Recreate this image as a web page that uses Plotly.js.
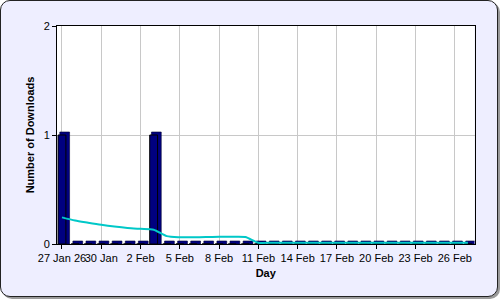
<!DOCTYPE html>
<html>
<head>
<meta charset="utf-8">
<script src="https://cdn.plot.ly/plotly-3.0.1.min.js"></script>
<style>
  html, body { margin: 0; padding: 0; background: #ffffff; }
  #frame { position: absolute; left: 0; top: 0; width: 496px; height: 295px;
           border: 1px solid #222; border-radius: 10px; background: #EEEEFF;
           box-shadow: 2px 2px 0 #9a9a9a; }
  #chart { position: absolute; left: 0; top: 0; width: 500px; height: 300px; }
</style>
</head>
<body>
<div id="frame"></div>
<div id="chart"></div>
<script>
// Days 27 Jan .. 27 Feb
const days = ["27 Jan","28 Jan","29 Jan","30 Jan","31 Jan","1 Feb","2 Feb","3 Feb","4 Feb","5 Feb",
  "6 Feb","7 Feb","8 Feb","9 Feb","10 Feb","11 Feb","12 Feb","13 Feb","14 Feb","15 Feb","16 Feb",
  "17 Feb","18 Feb","19 Feb","20 Feb","21 Feb","22 Feb","23 Feb","24 Feb","25 Feb","26 Feb","27 Feb"];
const downloads = [1,0,0,0,0,0,0,1,0,0,0,0,0,0,0,0,0,0,0,0,0,0,0,0,0,0,0,0,0,0,0,0];
const trend = [0.244,0.215,0.195,0.176,0.160,0.147,0.139,0.131,0.072,0.062,0.062,0.064,0.066,0.067,0.064,
  0.012,0.012,0.012,0.012,0.012,0.012,0.012,0.012,0.012,0.012,0.012,0.012,0.012,0.012,0.012,0.012,0.012];
const tickDays = ["27 Jan","30 Jan","2 Feb","5 Feb","8 Feb","11 Feb","14 Feb","17 Feb","20 Feb","23 Feb","26 Feb"];
const tickLabels = ["27 Jan 26","30 Jan","2 Feb","5 Feb","8 Feb","11 Feb","14 Feb","17 Feb","20 Feb","23 Feb","26 Feb"];
const yTicks = [0,1,2];

const idx = days.map((d,i)=>i);
const tickIdx = tickDays.map(d => days.indexOf(d));

// 3D look parameters (pixels -> data units)
const pxPerDay = 13.11, pxPerUnit = 109;
const dxPx = 3.5, dyPx = 3;
const depth = dyPx / pxPerUnit;
const barW = 0.6;
const backW = barW + (dxPx / 2) / pxPerDay * 1.1;

const plotW = 500 - 57 - 21.5, plotH = 300 - 23 - 56;
const fx = (plotW - dxPx) / plotW, fy = (plotH - dyPx) / plotH;
const xRange = [-0.38, -0.38 + (plotW - dxPx) / pxPerDay];

const wall = {
  type: 'scatter', mode: 'lines', x: idx, y: downloads, xaxis: 'x2', yaxis: 'y2',
  line: { width: 0, color: 'rgba(0,0,0,0)' }, hoverinfo: 'skip', showlegend: false
};
const back = {
  type: 'bar', x: idx, y: downloads.map(v => v + depth), base: 0,
  width: backW, offset: -barW/2 + (dxPx/2)/pxPerDay,
  marker: { color: '#000080', line: { color: '#000030', width: 0.6 } },
  hoverinfo: 'skip', showlegend: false
};
const front = {
  type: 'bar', x: idx, y: downloads, base: 0,
  width: barW, offset: -barW/2,
  marker: { color: '#000080', line: { color: '#000000', width: 1 } },
  showlegend: false
};
const line = {
  type: 'scatter', mode: 'lines', x: idx, y: trend,
  line: { color: '#00C8C8', width: 2, shape: 'spline', smoothing: 0.7 },
  showlegend: false
};

const tickFont = { family: 'Liberation Sans, Arial, sans-serif', size: 11, color: '#000' };
const titleFont = { family: 'Liberation Sans, Arial, sans-serif', size: 11, color: '#000', weight: 'bold' };

const layout = {
  width: 500, height: 300,
  paper_bgcolor: 'rgba(0,0,0,0)', plot_bgcolor: '#ffffff',
  margin: { l: 57, r: 21.5, t: 23, b: 56, pad: 0 },
  barmode: 'overlay',
  xaxis: {
    domain: [0, fx], range: xRange, anchor: 'y',
    tickmode: 'array', tickvals: tickIdx, ticktext: tickLabels, tickangle: 0,
    showgrid: false, zeroline: false, showline: true, linecolor: '#000', linewidth: 1,
    ticks: 'outside', ticklen: 4, tickcolor: '#000', tickfont: tickFont,
    title: { text: 'Day', font: titleFont, standoff: 6 }
  },
  yaxis: {
    domain: [0, fy], range: [0, 2], anchor: 'x',
    tickmode: 'array', tickvals: yTicks,
    showgrid: false, zeroline: false, showline: true, linecolor: '#000', linewidth: 1,
    ticks: 'outside', ticklen: 4, tickcolor: '#000', tickfont: tickFont,
    title: { text: 'Number of Downloads', font: titleFont, standoff: 6 }
  },
  xaxis2: {
    overlaying: 'x', anchor: 'y2', domain: [dxPx/plotW, 1], range: xRange, side: 'top',
    tickmode: 'array', tickvals: tickIdx, showticklabels: false, ticks: '',
    showgrid: true, gridcolor: '#c8c8c8', gridwidth: 1, zeroline: false,
    showline: true, linecolor: '#000', linewidth: 1
  },
  yaxis2: {
    overlaying: 'y', anchor: 'x2', domain: [dyPx/plotH, 1], range: [0, 2], side: 'right',
    tickmode: 'array', tickvals: yTicks, showticklabels: false, ticks: '',
    showgrid: true, gridcolor: '#c8c8c8', gridwidth: 1, zeroline: false,
    showline: true, mirror: true, linecolor: '#000', linewidth: 1
  }
};

Plotly.newPlot('chart', [wall, back, front, line], layout, { displayModeBar: false, staticPlot: true });
</script>
</body>
</html>
